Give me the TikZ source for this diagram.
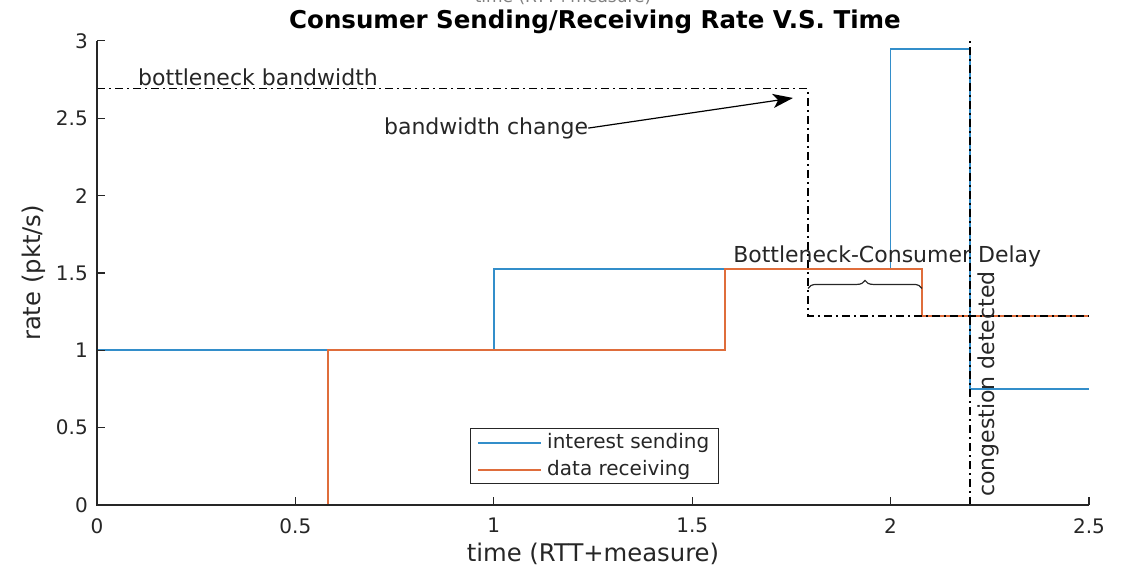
\documentclass[tikz,border=0pt]{standalone}
\usepackage{fontspec}
\setmainfont{DejaVu Sans}
\usetikzlibrary{arrows.meta,decorations.pathreplacing}
\definecolor{mblue}{HTML}{0072BD}
\definecolor{morange}{HTML}{D95319}
\definecolor{axgray}{HTML}{262626}
\begin{document}
\begin{tikzpicture}[x=1pt,y=1pt,
  axis/.style={draw=axgray, line width=1.2pt},
  ticklab/.style={text=axgray, inner sep=0pt, font=\fontsize{20}{20}\selectfont},
  axlab/.style={text=axgray, inner sep=0pt, font=\fontsize{24.3}{24.3}\selectfont},
  annot/.style={text=axgray, inner sep=0pt, font=\fontsize{22}{22}\selectfont},
  legtxt/.style={text=axgray, inner sep=0pt, anchor=west, font=\fontsize{20}{20}\selectfont},
  series/.style={line width=1.7pt, line join=miter},
  dashdot/.style={draw=black, line width=1.2pt, dash pattern=on 8pt off 4pt on 2pt off 4pt}]
\useasboundingbox (0,0) rectangle (1122,570);
\clip (0,0) rectangle (1122,570);

% partly hidden caption above the title
\node[text=gray, inner sep=0pt, anchor=base, font=\fontsize{17}{17}\selectfont] (toplab) at (563,567) {time (RTT+measure)};
% title
\node[text=black, inner sep=0pt, anchor=base, font=\fontsize{24.5}{24.5}\selectfont\bfseries] (title) at (595,541) {Consumer Sending/Receiving Rate V.S. Time};

\begin{scope}[shift={(97,65)}, x=396.8pt, y=154.7pt]
  % data series
  \draw[series, mblue!80!white] (0,1) -| (1,1.526) -| (2,2.948) -| (2.2,0.75) -- (2.5,0.75);
  \draw[series, morange!85!white] (0,0) -| (0.582,1) -| (1.583,1.526) -| (2.079,1.222) -- (2.5,1.222);

  % annotations
  \draw[dashdot] (0,2.69) -- (1.792,2.69) -- (1.792,1.222) -- (2.5,1.222);
  \draw[dashdot] (2.2,0) -- (2.2,3);

  % axes and ticks
  \draw[axis] (0,3) -- (0,0) -- (2.5,0);
  \foreach \t in {0,0.5,1,1.5,2,2.5} {
    \draw[axis] (\t,0) -- ++(0,8pt);
    \node[ticklab, anchor=north] at ([yshift=-13pt]\t,0) {\t};
  }
  \foreach \t in {0,0.5,1,1.5,2,2.5,3} {
    \draw[axis] (0,\t) -- ++(8pt,0);
    \node[ticklab, anchor=east] at ([xshift=-9pt]0,\t) {\t};
  }
  \node[axlab, anchor=base] (xlab) at ([yshift=-57pt]1.25,0) {time (RTT+measure)};
  \node[axlab, anchor=base, rotate=90] (ylab) at ([xshift=-57pt]0,1.5) {rate (pkt/s)};

  % text labels
  \node[annot, anchor=base west] (bw) at ([xshift=41pt,yshift=3pt]0,2.69) {bottleneck bandwidth};
  \node[annot, anchor=base west] (bwc) at (0.723,2.397) {bandwidth change};
  \coordinate (bwtip) at (1.754,2.631);
  \draw[line width=1.2pt, -{Stealth[length=20pt,width=14pt,inset=5pt]}] (bwc.east) -- (bwtip);
  \node[annot, anchor=base west] (bcd) at (1.603,1.565) {Bottleneck-Consumer Delay};
  \coordinate (brL) at (1.792,1.400);
  \coordinate (brR) at (2.079,1.400);
  \draw[line width=1.2pt, draw=axgray, decorate, decoration={brace, amplitude=8pt}] (brL) -- (brR);
  \node[annot, anchor=base west, rotate=90] (cong) at (2.263,0.052) {congestion detected};
\end{scope}

% legend
\draw[draw=axgray, line width=1pt, fill=white] (470,86) rectangle (718,141);
\draw[series, mblue!80!white] (478,127) -- (541,127);
\draw[series, morange!85!white] (478,100) -- (541,100);
\node[legtxt] (leg1) at (547,127) {interest sending};
\node[legtxt] (leg2) at (547,100) {data receiving};
\end{tikzpicture}
\end{document}
